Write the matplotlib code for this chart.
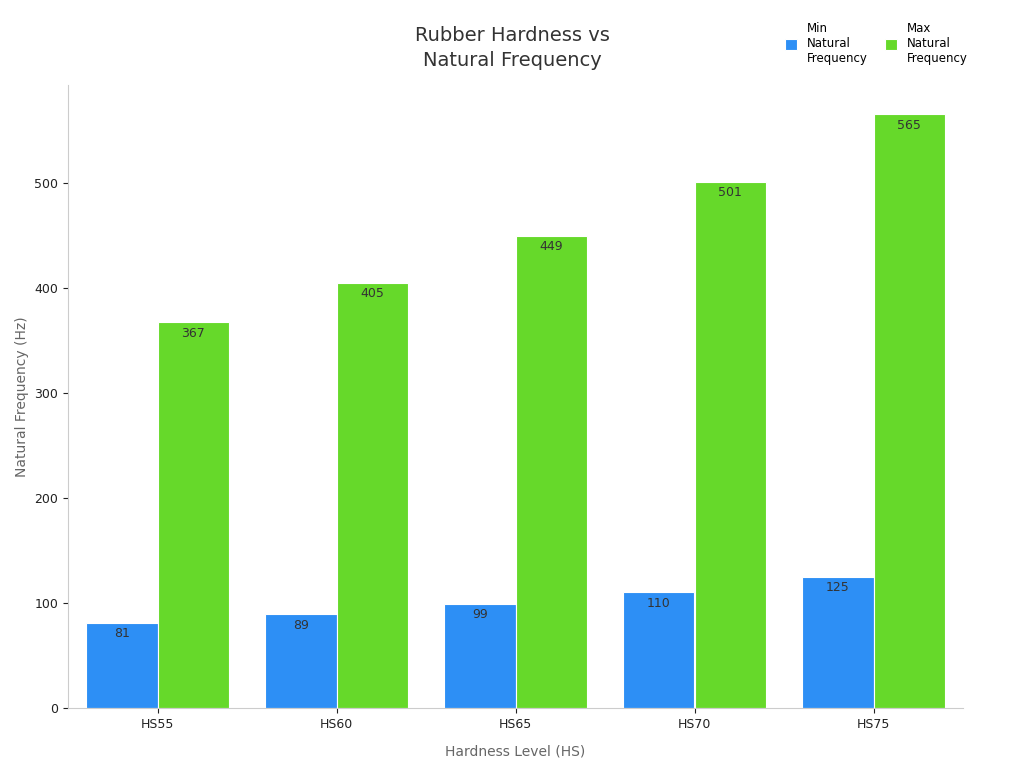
import matplotlib
matplotlib.use("Agg")
import matplotlib.pyplot as plt
import numpy as np

categories = ["HS55", "HS60", "HS65", "HS70", "HS75"]
min_freq = [81, 89, 99, 110, 125]
max_freq = [367, 405, 449, 501, 565]

fig = plt.figure(figsize=(10.24, 7.68), dpi=100)
ax = fig.add_axes([68/1024, 60/768, 895/1024, 623/768])
x = np.arange(len(categories))
w = 0.4
b1 = ax.bar(x - w/2, min_freq, w, color="#2d8ff5", edgecolor="white", linewidth=0.8, label="Min\nNatural\nFrequency")
b2 = ax.bar(x + w/2, max_freq, w, color="#66d92a", edgecolor="white", linewidth=0.8, label="Max\nNatural\nFrequency")
for bars in (b1, b2):
    for r in bars:
        ax.text(r.get_x() + r.get_width()/2, r.get_height() - 4, f"{int(r.get_height())}",
                ha="center", va="top", fontsize=9, color="#333333")
ax.set_xlim(-0.5, 4.5)
ax.set_ylim(0, 593)
ax.set_xticks(x)
ax.set_xticklabels(categories)
ax.set_yticks([0, 100, 200, 300, 400, 500])
ax.tick_params(labelsize=9, colors="#222222")
for s in ("top", "right"):
    ax.spines[s].set_visible(False)
for s in ("left", "bottom"):
    ax.spines[s].set_color("#cccccc")
ax.set_xlabel("Hardness Level (HS)", fontsize=10, color="#666666", labelpad=10)
ax.set_ylabel("Natural Frequency (Hz)", fontsize=10, color="#666666")
fig.text(512/1024, 1 - 48/768, "Rubber Hardness vs\nNatural Frequency", ha="center", va="center",
         fontsize=14, color="#333333", linespacing=1.4)
fig.legend(loc="upper right", bbox_to_anchor=(0.955, 0.985), ncol=2, frameon=False, fontsize=8.5,
           handlelength=1, handleheight=1, columnspacing=1.5)
fig.savefig("out.png", dpi=100)
